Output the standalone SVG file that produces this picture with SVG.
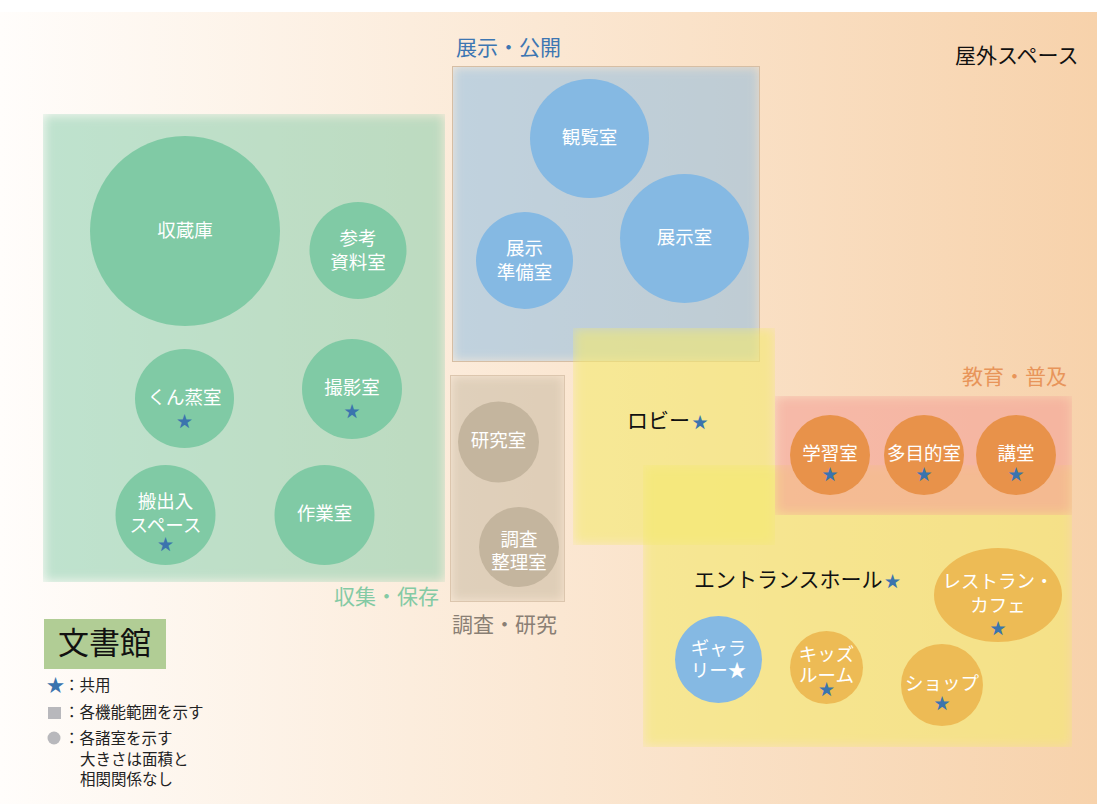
<svg xmlns="http://www.w3.org/2000/svg" width="1097" height="804" viewBox="0 0 1097 804">
<defs>
<linearGradient id="bg" x1="0" y1="0" x2="1" y2="0">
<stop offset="0" stop-color="#fffdfb"/>
<stop offset="1" stop-color="#f7d2ab"/>
</linearGradient>
<filter id="soft" x="-10%" y="-10%" width="120%" height="120%"><feGaussianBlur stdDeviation="6"/></filter>
<clipPath id="cG"><rect x="43" y="114" width="402" height="468"/></clipPath>
<clipPath id="cB"><rect x="452" y="66" width="308" height="296"/></clipPath>
<clipPath id="cT"><rect x="450" y="375" width="115" height="227"/></clipPath>
<clipPath id="cL"><rect x="573" y="328" width="202" height="217"/></clipPath>
<clipPath id="cE"><rect x="643" y="465" width="429" height="282"/></clipPath>
<clipPath id="cP"><rect x="775" y="396" width="297" height="119"/></clipPath>
</defs>
<style>
text{font-family:"Noto Sans CJK JP","Noto Sans",sans-serif}
.rt{fill:#fff;font-size:18.5px;text-anchor:middle}
.st{fill:#3b74ae;font-size:16px;text-anchor:middle}
.lb{font-size:21px}
.lg{font-size:15.5px;fill:#222}
.g{fill:#80caa5}
.b{fill:#85b9e3}
.t{fill:#c4b59e}
.o{fill:#e8924a}
.y{fill:#edbb55}
</style>
<rect x="0" y="0" width="1097" height="804" fill="#ffffff"/>
<rect x="0" y="12" width="1097" height="792" fill="url(#bg)"/>

<g id="areas">
<rect x="43" y="114" width="402" height="468" fill="#80caa5" fill-opacity="0.5" filter="url(#soft)" clip-path="url(#cG)"/>
<rect x="452" y="66" width="308" height="296" fill="#85b9e3" fill-opacity="0.5" filter="url(#soft)" clip-path="url(#cB)"/>
<rect x="452.5" y="66.5" width="307" height="295" fill="none" stroke="#d6bea4" stroke-width="1"/>
<rect x="450" y="375" width="115" height="227" fill="#c4b59e" fill-opacity="0.5" filter="url(#soft)" clip-path="url(#cT)"/>
<rect x="450.5" y="375.5" width="114" height="226" fill="none" stroke="#dcc6ae" stroke-width="1"/>
<rect x="573" y="328" width="202" height="217" fill="#f4ea6e" fill-opacity="0.6" filter="url(#soft)" clip-path="url(#cL)"/>
<rect x="643" y="465" width="429" height="282" fill="#f4ea6e" fill-opacity="0.6" filter="url(#soft)" clip-path="url(#cE)"/>
<rect x="775" y="396" width="297" height="119" fill="#f4a096" fill-opacity="0.6" filter="url(#soft)" clip-path="url(#cP)"/>
</g>

<g id="area-labels">
<text class="lb" x="456" y="55" fill="#3d76b2">展示・公開</text>
<text class="lb" x="962" y="384" fill="#e8955a">教育・普及</text>
<text class="lb" x="452" y="632" fill="#8a7f74">調査・研究</text>
<text class="lb" x="334" y="604" fill="#84caa4">収集・保存</text>
<text class="lb" x="955" y="63" fill="#111">屋外スペース</text>
<text class="lb" x="627" y="428" fill="#111">ロビー<tspan fill="#3b74ae" font-size="16" dx="2">★</tspan></text>
<text class="lb" x="694" y="587" fill="#111">エントランスホール<tspan fill="#3b74ae" font-size="16" dx="2">★</tspan></text>
</g>

<g id="connectors"></g>

<g id="n-shuzoko"><circle class="g" cx="185" cy="231" r="95"/><text class="rt" x="185" y="237">収蔵庫</text></g>
<g id="n-sanko"><circle class="g" cx="358" cy="250.5" r="48.5"/><text class="rt" x="358" y="244.5">参考</text><text class="rt" x="358" y="268.5">資料室</text></g>
<g id="n-kunjo"><circle class="g" cx="184.5" cy="398.5" r="49.5"/><text class="rt" x="184.5" y="403.5">くん蒸室</text><text class="st" x="184.5" y="427">★</text></g>
<g id="n-satsuei"><circle class="g" cx="352" cy="389" r="50"/><text class="rt" x="352" y="393.5">撮影室</text><text class="st" x="352" y="417">★</text></g>
<g id="n-hanshutsu"><circle class="g" cx="165.5" cy="515" r="50"/><text class="rt" x="165.5" y="507.5">搬出入</text><text class="rt" x="165.5" y="531.5">スペース</text><text class="st" x="165.5" y="550">★</text></g>
<g id="n-sagyo"><circle class="g" cx="324.5" cy="515" r="50"/><text class="rt" x="324.5" y="519.5">作業室</text></g>

<g id="n-kanran"><circle class="b" cx="589.5" cy="138.5" r="59.5"/><text class="rt" x="589.5" y="143.5">観覧室</text></g>
<g id="n-tenji"><circle class="b" cx="684.5" cy="238.5" r="64.5"/><text class="rt" x="684.5" y="243.5">展示室</text></g>
<g id="n-junbi"><circle class="b" cx="524.5" cy="260.5" r="48.5"/><text class="rt" x="524.5" y="254.5">展示</text><text class="rt" x="524.5" y="278.5">準備室</text></g>

<g id="n-kenkyu"><circle class="t" cx="498.5" cy="442" r="40.5"/><text class="rt" x="498.5" y="447">研究室</text></g>
<g id="n-chosa"><circle class="t" cx="519" cy="547" r="40"/><text class="rt" x="519" y="545.5">調査</text><text class="rt" x="519" y="568.5">整理室</text></g>

<g id="n-gakushu"><circle class="o" cx="830" cy="455" r="40"/><text class="rt" x="830" y="459.5">学習室</text><text class="st" x="830" y="480">★</text></g>
<g id="n-tamokuteki"><circle class="o" cx="924" cy="455" r="40"/><text class="rt" x="924" y="459.5">多目的室</text><text class="st" x="924" y="480">★</text></g>
<g id="n-kodo"><circle class="o" cx="1016" cy="455" r="40"/><text class="rt" x="1016" y="459.5">講堂</text><text class="st" x="1016" y="480">★</text></g>

<g id="n-gallery"><circle class="b" cx="718.5" cy="659.5" r="43.5"/><text class="rt" x="718.5" y="654.5">ギャラ</text><text class="rt" x="718.5" y="676.5">リー★</text></g>
<g id="n-kids"><circle class="y" cx="826.5" cy="667.5" r="36.5"/><text class="rt" x="826.5" y="661">キッズ</text><text class="rt" x="826.5" y="681.5">ルーム</text><text class="st" x="826.5" y="695">★</text></g>
<g id="n-shop"><circle class="y" cx="942" cy="685" r="41"/><text class="rt" x="942" y="689.5">ショップ</text><text class="st" x="942" y="709">★</text></g>
<g id="n-cafe"><ellipse class="y" cx="998" cy="595" rx="64" ry="47"/><text class="rt" x="998" y="587.5">レストラン・</text><text class="rt" x="998" y="611.5">カフェ</text><text class="st" x="998" y="634">★</text></g>

<g id="legend">
<rect x="44" y="619" width="122" height="50" fill="#b1cd95"/>
<text x="58" y="654" font-size="31" fill="#111">文書館</text>
<text x="55.5" y="692" font-size="18" fill="#3b74ae" text-anchor="middle">★</text>
<text class="lg" x="64" y="691">：共用</text>
<rect x="48" y="707" width="13" height="12" fill="#b8b8bc"/>
<text class="lg" x="64" y="718">：各機能範囲を示す</text>
<circle cx="54" cy="738" r="6.5" fill="#b8b8bc"/>
<text class="lg" x="64" y="744">：各諸室を示す</text>
<text class="lg" x="80" y="765">大きさは面積と</text>
<text class="lg" x="80" y="785">相関関係なし</text>
</g>
</svg>
